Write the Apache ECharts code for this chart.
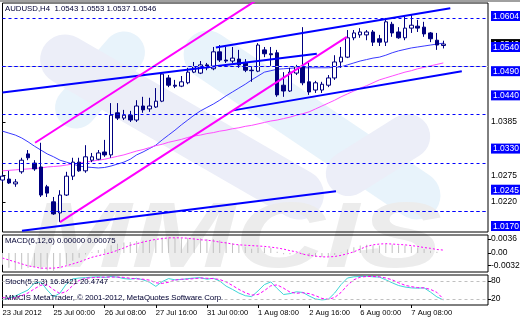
<!DOCTYPE html>
<html><head><meta charset="utf-8">
<script src="https://cdn.jsdelivr.net/npm/echarts@6/dist/echarts.min.js"></script>
<style>html,body{margin:0;padding:0;background:#fff}#c{width:520px;height:320px}</style>
</head><body><div id="c"></div>
<script>
// ---------- DATA ----------
const categories = [
'23 Jul 16:00','23 Jul 20:00',
'24 Jul 00:00','24 Jul 04:00','24 Jul 08:00','24 Jul 12:00','24 Jul 16:00','24 Jul 20:00',
'25 Jul 00:00','25 Jul 04:00','25 Jul 08:00','25 Jul 12:00','25 Jul 16:00','25 Jul 20:00',
'26 Jul 00:00','26 Jul 04:00','26 Jul 08:00','26 Jul 12:00','26 Jul 16:00','26 Jul 20:00',
'27 Jul 00:00','27 Jul 04:00','27 Jul 08:00','27 Jul 12:00','27 Jul 16:00','27 Jul 20:00',
'30 Jul 00:00','30 Jul 04:00','30 Jul 08:00','30 Jul 12:00','30 Jul 16:00','30 Jul 20:00',
'31 Jul 00:00','31 Jul 04:00','31 Jul 08:00','31 Jul 12:00','31 Jul 16:00','31 Jul 20:00',
'1 Aug 00:00','1 Aug 04:00','1 Aug 08:00','1 Aug 12:00','1 Aug 16:00','1 Aug 20:00',
'2 Aug 00:00','2 Aug 04:00','2 Aug 08:00','2 Aug 12:00','2 Aug 16:00','2 Aug 20:00',
'3 Aug 00:00','3 Aug 04:00','3 Aug 08:00','3 Aug 12:00','3 Aug 16:00','3 Aug 20:00',
'6 Aug 00:00','6 Aug 04:00','6 Aug 08:00','6 Aug 12:00','6 Aug 16:00','6 Aug 20:00',
'7 Aug 00:00','7 Aug 04:00','7 Aug 08:00','7 Aug 12:00','7 Aug 16:00','7 Aug 20:00',
'8 Aug 00:00','8 Aug 04:00'
];
const firstTickLabel = '23 Jul 2012';
const futureSlots = 7;

const opens = [1.0265,1.0267,1.0257,1.0282,1.0319,1.0300,1.0292,1.0251,1.0220,1.0197,
 1.0234,1.0273,1.0302,1.0284,1.0306,1.0308,1.0323,1.0317,1.0404,1.0393,
 1.0399,1.0389,1.0418,1.0412,1.0416,1.0428,1.0476,1.0461,1.0459,1.0466,
 1.0488,1.0486,1.0503,1.0495,1.0530,1.0513,1.0511,1.0515,1.0507,1.0492,
 1.0490,1.0534,1.0526,1.0528,1.0461,1.0449,1.0486,1.0499,1.0468,1.0451,
 1.0451,1.0461,1.0476,1.0509,1.0519,1.0559,1.0565,1.0565,1.0571,1.0557,
 1.0550,1.0587,1.0571,1.0559,1.0579,1.0583,1.0581,1.0569,1.0554,1.0543];
const closes = [1.0273,1.0259,1.0261,1.0306,1.0311,1.0288,1.0234,1.0238,1.0195,1.0234,
 1.0273,1.0302,1.0284,1.0313,1.0313,1.0321,1.0317,1.0399,1.0393,1.0399,
 1.0389,1.0418,1.0410,1.0418,1.0428,1.0484,1.0461,1.0459,1.0468,1.0488,
 1.0499,1.0503,1.0497,1.0530,1.0513,1.0511,1.0517,1.0503,1.0492,1.0491,
 1.0544,1.0526,1.0524,1.0441,1.0449,1.0488,1.0499,1.0466,1.0447,1.0466,
 1.0463,1.0476,1.0509,1.0519,1.0559,1.0569,1.0571,1.0571,1.0550,1.0550,
 1.0592,1.0569,1.0559,1.0579,1.0585,1.0579,1.0567,1.0557,1.0544,1.0546];
const lows = [1.0261,1.0257,1.0251,1.0278,1.0306,1.0284,1.0230,1.0230,1.0193,1.0178,
 1.0232,1.0265,1.0282,1.0280,1.0302,1.0306,1.0313,1.0311,1.0389,1.0389,
 1.0385,1.0385,1.0404,1.0406,1.0414,1.0426,1.0457,1.0455,1.0457,1.0463,
 1.0486,1.0484,1.0492,1.0492,1.0509,1.0507,1.0507,1.0497,1.0488,1.0468,
 1.0488,1.0519,1.0501,1.0437,1.0437,1.0447,1.0482,1.0461,1.0441,1.0445,
 1.0445,1.0457,1.0472,1.0497,1.0517,1.0554,1.0559,1.0554,1.0542,1.0542,
 1.0542,1.0561,1.0557,1.0554,1.0569,1.0571,1.0561,1.0550,1.0534,1.0537];
const highs = [1.0278,1.0284,1.0267,1.0311,1.0327,1.0306,1.0342,1.0255,1.0230,1.0244,
 1.0282,1.0311,1.0311,1.0337,1.0321,1.0327,1.0348,1.0424,1.0424,1.0410,
 1.0408,1.0430,1.0437,1.0435,1.0455,1.0486,1.0482,1.0472,1.0480,1.0497,
 1.0509,1.0511,1.0507,1.0540,1.0544,1.0540,1.0540,1.0534,1.0515,1.0499,
 1.0548,1.0540,1.0540,1.0534,1.0488,1.0497,1.0503,1.0581,1.0507,1.0470,
 1.0468,1.0482,1.0523,1.0540,1.0575,1.0575,1.0579,1.0575,1.0575,1.0565,
 1.0600,1.0592,1.0581,1.0606,1.0606,1.0596,1.0592,1.0571,1.0569,1.0553];

const maFast = [1.0366,1.0362,1.0358,1.0352,1.0344,1.0335,1.0327,1.0319,1.0313,1.0306,
 1.0302,1.0298,1.0294,1.0292,1.0291,1.0290,1.0291,1.0294,1.0298,1.0302,
 1.0308,1.0317,1.0323,1.0330,1.0337,1.0348,1.0358,1.0368,1.0379,1.0389,
 1.0399,1.0408,1.0415,1.0422,1.0430,1.0439,1.0447,1.0455,1.0463,1.0472,
 1.0480,1.0488,1.0491,1.0494,1.0495,1.0496,1.0497,1.0497,1.0497,1.0497,
 1.0497,1.0497,1.0498,1.0499,1.0503,1.0507,1.0511,1.0514,1.0517,1.0519,
 1.0523,1.0528,1.0532,1.0535,1.0538,1.0540,1.0542,1.0544,1.0546,1.0548];
const maSlow = [1.0284,1.0285,1.0286,1.0287,1.0288,1.0289,1.0290,1.0292,1.0293,1.0294,
 1.0296,1.0298,1.0300,1.0302,1.0304,1.0306,1.0308,1.0311,1.0314,1.0317,
 1.0321,1.0325,1.0328,1.0332,1.0336,1.0339,1.0343,1.0346,1.0349,1.0353,
 1.0356,1.0358,1.0361,1.0363,1.0366,1.0368,1.0371,1.0373,1.0376,1.0378,
 1.0381,1.0384,1.0387,1.0389,1.0392,1.0395,1.0399,1.0402,1.0406,1.0412,
 1.0418,1.0424,1.0430,1.0437,1.0443,1.0449,1.0455,1.0460,1.0466,1.0472,
 1.0476,1.0480,1.0484,1.0488,1.0491,1.0495,1.0498,1.0501,1.0504,1.0507];

const macdMain = [-0.0030,-0.0038,-0.0044,-0.0042,-0.0038,-0.0036,-0.0042,-0.0045,-0.0047,-0.0040,
 -0.0030,-0.0020,-0.0012,-0.0004,0.0002,0.0008,0.0011,0.0020,0.0024,0.0027,
 0.0028,0.0031,0.0032,0.0033,0.0034,0.0040,0.0040,0.0039,0.0038,0.0039,
 0.0039,0.0038,0.0036,0.0036,0.0033,0.0029,0.0025,0.0021,0.0016,0.0011,
 0.0014,0.0014,0.0013,0.0003,-0.0003,-0.0003,-0.0001,-0.0004,-0.0009,-0.0010,
 -0.0010,-0.0009,-0.0005,0.0001,0.0009,0.0015,0.0019,0.0021,0.0020,0.0019,
 0.0023,0.0022,0.0020,0.0019,0.0017,0.0014,0.0010,0.0006,0.0003,0.0000];
const macdSignal = [-0.0013,-0.0018,-0.0023,-0.0028,-0.0033,-0.0036,-0.0039,-0.0039,-0.0039,-0.0037,
 -0.0033,-0.0028,-0.0023,-0.0017,-0.0011,-0.0007,-0.0003,0.0001,0.0007,0.0013,
 0.0020,0.0024,0.0028,0.0032,0.0035,0.0037,0.0039,0.0039,0.0039,0.0038,
 0.0036,0.0034,0.0033,0.0031,0.0028,0.0026,0.0023,0.0021,0.0020,0.0019,
 0.0018,0.0017,0.0015,0.0013,0.0010,0.0006,0.0003,-0.0003,-0.0006,-0.0008,
 -0.0010,-0.0010,-0.0009,-0.0006,-0.0002,0.0003,0.0010,0.0017,0.0021,0.0023,
 0.0024,0.0023,0.0022,0.0021,0.0019,0.0017,0.0014,0.0012,0.0009,0.00075];

const stochK = [17,23,30,40,50,73,77,50,27,40,
 70,87,90,91,93,94,92,95,93,88,
 86,89,84,76,62,78,88,84,85,88,
 90,91,86,89,80,63,52,40,31,28,
 47,68,77,55,35,38,44,42,30,20,
 17,19,40,68,90,94,95,96,94,93,
 84,74,65,60,57,56,57,43,27,16.8421];
const stochD = [25,22,24,31,40,54,66,67,51,38,
 45,65,82,89,91,92,93,93,93,92,
 89,87,86,83,74,72,76,83,86,86,
 88,90,89,88,85,77,65,52,41,33,
 35,48,64,67,56,43,39,41,38,31,
 22,19,25,42,66,84,93,95,95,94,
 90,84,74,66,61,58,57,52,42,20.4747];

const priceLevels = [1.0604, 1.0540, 1.0490, 1.0440, 1.0330, 1.0245, 1.0170];
const plainPriceTicks = [1.0385, 1.0275, 1.0220];
const bidPrice = 1.0546;
const macdTicks = [0.0036, 0, -0.00326];
const macdTickLabels = ['0.0036', '0.00', '-0.00326'];
const stochLevels = [80, 20];
const stochTickLabels = ['80', '20'];

// trendlines: [bar index, price] endpoints
const trendBlue = [
  [[0, 1.0446], [49.2, 1.0526]],
  [[33.4, 1.0539], [70.1, 1.0620]],
  [[36.1, 1.0409], [71.9, 1.0490]],
  [[3.05, 1.0160], [52.2, 1.0242]]
];
const trendMagenta = [
  [[5.1, 1.0342], [39.8, 1.0637]],
  [[9, 1.0178], [53.9, 1.0561]]
];

// ---------- CHART ----------
const FONT = 'Liberation Sans';
const allCats = categories.concat(Array(futureSlots).fill(''));
const nSlots = allCats.length;
const last = opens.length - 1;
const header = 'AUDUSD,H4  ' + [opens[last], highs[last], lows[last], closes[last]].map(v => v.toFixed(4)).join(' ');
const macdLabel = 'MACD(6,12,6) ' + macdMain[last].toFixed(5) + ' ' + macdSignal[last].toFixed(5);
const stochLabel = 'Stoch(5,3,3) ' + stochK[last].toFixed(4) + ' ' + stochD[last].toFixed(4);

const showTick = (i, v) => v !== '' && i % 8 === 0;

function catAxis(gi, showLabels) {
  return {
    type: 'category', gridIndex: gi, data: allCats, boundaryGap: false,
    axisLine: { show: false }, splitLine: { show: false },
    axisTick: showLabels ? { show: true, interval: showTick, length: 3, lineStyle: { color: '#000' } } : { show: false },
    axisLabel: showLabels ? {
      show: true, interval: showTick, align: 'left', margin: 4,
      fontSize: 7.6, fontFamily: FONT, color: '#000',
      formatter: (v, i) => (i === 0 ? firstTickLabel : v)
    } : { show: false }
  };
}

const gridBase = { left: 2.5, right: 32, show: true, borderColor: '#000', borderWidth: 1, containLabel: false, outerBoundsMode: 'none' };

const candleData = opens.map((o, i) => [o, closes[i], lows[i], highs[i]]);

const series = [
  {
    type: 'candlestick', xAxisIndex: 0, yAxisIndex: 0, data: candleData, barWidth: 4, z: 3,
    itemStyle: { color: '#ffffff', color0: '#000080', borderColor: '#000080', borderColor0: '#000080', borderWidth: 1 },
    markLine: {
      silent: true, symbol: ['none', 'none'], label: { show: false }, animation: false,
      data: [{ yAxis: bidPrice, lineStyle: { type: 'solid', color: '#c8c8c8', width: 1 } }]
        .concat(priceLevels.map(v => ({ yAxis: v, lineStyle: { type: [3, 3], color: '#0000ff', width: 1 } })))
    }
  },
  { type: 'line', xAxisIndex: 0, yAxisIndex: 0, data: maFast, symbol: 'none', z: 2,
    lineStyle: { color: '#3a3aff', width: 1 } },
  { type: 'line', xAxisIndex: 0, yAxisIndex: 0, data: maSlow, symbol: 'none', z: 2,
    lineStyle: { color: '#ff4cff', width: 1 } }
];
trendBlue.forEach(l => series.push({ type: 'line', xAxisIndex: 3, yAxisIndex: 0, data: l, symbol: 'none', z: 4, clip: true,
  lineStyle: { color: '#0000ff', width: 2 } }));
trendMagenta.forEach(l => series.push({ type: 'line', xAxisIndex: 3, yAxisIndex: 0, data: l, symbol: 'none', z: 4, clip: true,
  lineStyle: { color: '#ff00ff', width: 2 } }));
series.push(
  { type: 'bar', xAxisIndex: 1, yAxisIndex: 1, data: macdMain, barWidth: 1, itemStyle: { color: '#c0c0c0' }, z: 2 },
  { type: 'line', xAxisIndex: 1, yAxisIndex: 1, data: macdSignal, symbol: 'none', z: 3,
    lineStyle: { color: '#ff00ff', width: 1, type: [2, 2] } },
  { type: 'line', xAxisIndex: 2, yAxisIndex: 2, data: stochK, symbol: 'none', z: 3,
    lineStyle: { color: '#3fd6d6', width: 1 },
    markLine: { silent: true, symbol: ['none', 'none'], label: { show: false }, animation: false,
      lineStyle: { type: [3, 3], color: '#c0c0c0', width: 1 },
      data: stochLevels.map(v => ({ yAxis: v })) } },
  { type: 'line', xAxisIndex: 2, yAxisIndex: 2, data: stochD, symbol: 'none', z: 3,
    lineStyle: { color: '#ff00ff', width: 1, type: [3, 2] } }
);

const isLevel = s => priceLevels.some(p => p.toFixed(4) === s);
const richBox = (bg) => ({ backgroundColor: bg, color: '#fff', padding: [1, 2, 0, 2], fontSize: 8.5, fontFamily: FONT });

// decorative watermark capsule; angDeg > 0 means the long axis rises to the right
function capsule(cx, cy, len, th, angDeg, fill) {
  return { type: 'rect', x: cx, y: cy, rotation: angDeg * Math.PI / 180, z: -10, silent: true,
    shape: { x: -len / 2, y: -th / 2, width: len, height: th, r: th / 2 }, style: { fill: fill } };
}

const option = {
  animation: false,
  backgroundColor: '#ffffff',
  grid: [
    Object.assign({ top: 3, height: 229 }, gridBase),
    Object.assign({ top: 235, height: 37 }, gridBase),
    Object.assign({ top: 275, height: 30 }, gridBase)
  ],
  xAxis: [
    catAxis(0, false), catAxis(1, false), catAxis(2, true),
    { type: 'value', gridIndex: 0, min: 0, max: nSlots - 1, show: false }
  ],
  yAxis: [
    { type: 'value', gridIndex: 0, position: 'right', min: 1.01576, max: 1.06309, scale: true,
      splitLine: { show: false }, axisLine: { show: false },
      axisTick: { show: true, length: 3, customValues: plainPriceTicks, lineStyle: { color: '#000' } },
      axisLabel: { customValues: [bidPrice].concat(priceLevels, plainPriceTicks), margin: 3,
        fontSize: 8.5, fontFamily: FONT, color: '#000',
        formatter: v => { const s = v.toFixed(4); if (s === bidPrice.toFixed(4)) return '{b|' + s + '}';
          return isLevel(s) ? '{h|' + s + '}' : s; },
        rich: { h: richBox('#0000ff'), b: richBox('#000000') } } },
    { type: 'value', gridIndex: 1, position: 'right', min: -0.00489, max: 0.00463,
      splitLine: { show: false }, axisLine: { show: false },
      axisTick: { show: true, length: 3, customValues: macdTicks, lineStyle: { color: '#000' } },
      axisLabel: { customValues: macdTicks, margin: 3, fontSize: 8.5, fontFamily: FONT, color: '#000',
        formatter: v => macdTickLabels[macdTicks.findIndex(t => Math.abs(t - v) < 1e-9)] } },
    { type: 'value', gridIndex: 2, position: 'right', min: 0, max: 100,
      splitLine: { show: false }, axisLine: { show: false },
      axisTick: { show: true, length: 3, customValues: stochLevels, lineStyle: { color: '#000' } },
      axisLabel: { customValues: stochLevels, margin: 3, fontSize: 8.5, fontFamily: FONT, color: '#000',
        formatter: v => stochTickLabels[stochLevels.indexOf(v)] } }
  ],
  graphic: [
    // watermark logo pieces
    capsule(100, 80, 115, 42, 49, '#e8f3fb'),
    capsule(182, 127, 320, 50, -30, '#eceef8'),
    capsule(312, 125, 300, 48, -34, '#e8f3fb'),
    capsule(378, 155, 115, 45, 32, '#eceef8'),
    { type: 'text', x: 28, y: 196, scaleX: 1.35, z: -10, silent: true,
      style: { text: 'MMCIS', fontSize: 92, fontWeight: 'bold', fontStyle: 'italic', fontFamily: FONT,
        fill: '#ececec', verticalAlign: 'top', textVerticalAlign: 'top' } },
    { type: 'rect', shape: { x: 0, y: 0, width: 520, height: 2 }, style: { fill: '#a0a0a0' }, z: 100, silent: true },
    { type: 'text', x: 5, y: 9, z: 100, style: { text: header, fontSize: 7.8, fontFamily: FONT, fill: '#000033', verticalAlign: 'middle', textVerticalAlign: 'middle' } },
    { type: 'text', x: 5, y: 241, z: 100, style: { text: macdLabel, fontSize: 7.8, fontFamily: FONT, fill: '#000033', verticalAlign: 'middle', textVerticalAlign: 'middle' } },
    { type: 'text', x: 5, y: 282, z: 100, style: { text: stochLabel, fontSize: 7.8, fontFamily: FONT, fill: '#000033', verticalAlign: 'middle', textVerticalAlign: 'middle' } },
    { type: 'text', x: 5, y: 298, z: 100, style: { text: 'MMCIS MetaTrader, © 2001-2012, MetaQuotes Software Corp.', fontSize: 7.8, fontFamily: FONT, fill: '#000033', verticalAlign: 'middle', textVerticalAlign: 'middle' } }
  ],
  series: series
};

const chart = echarts.init(document.getElementById('c'), null, { renderer: 'canvas' });
chart.setOption(option);
</script>
</body></html>
